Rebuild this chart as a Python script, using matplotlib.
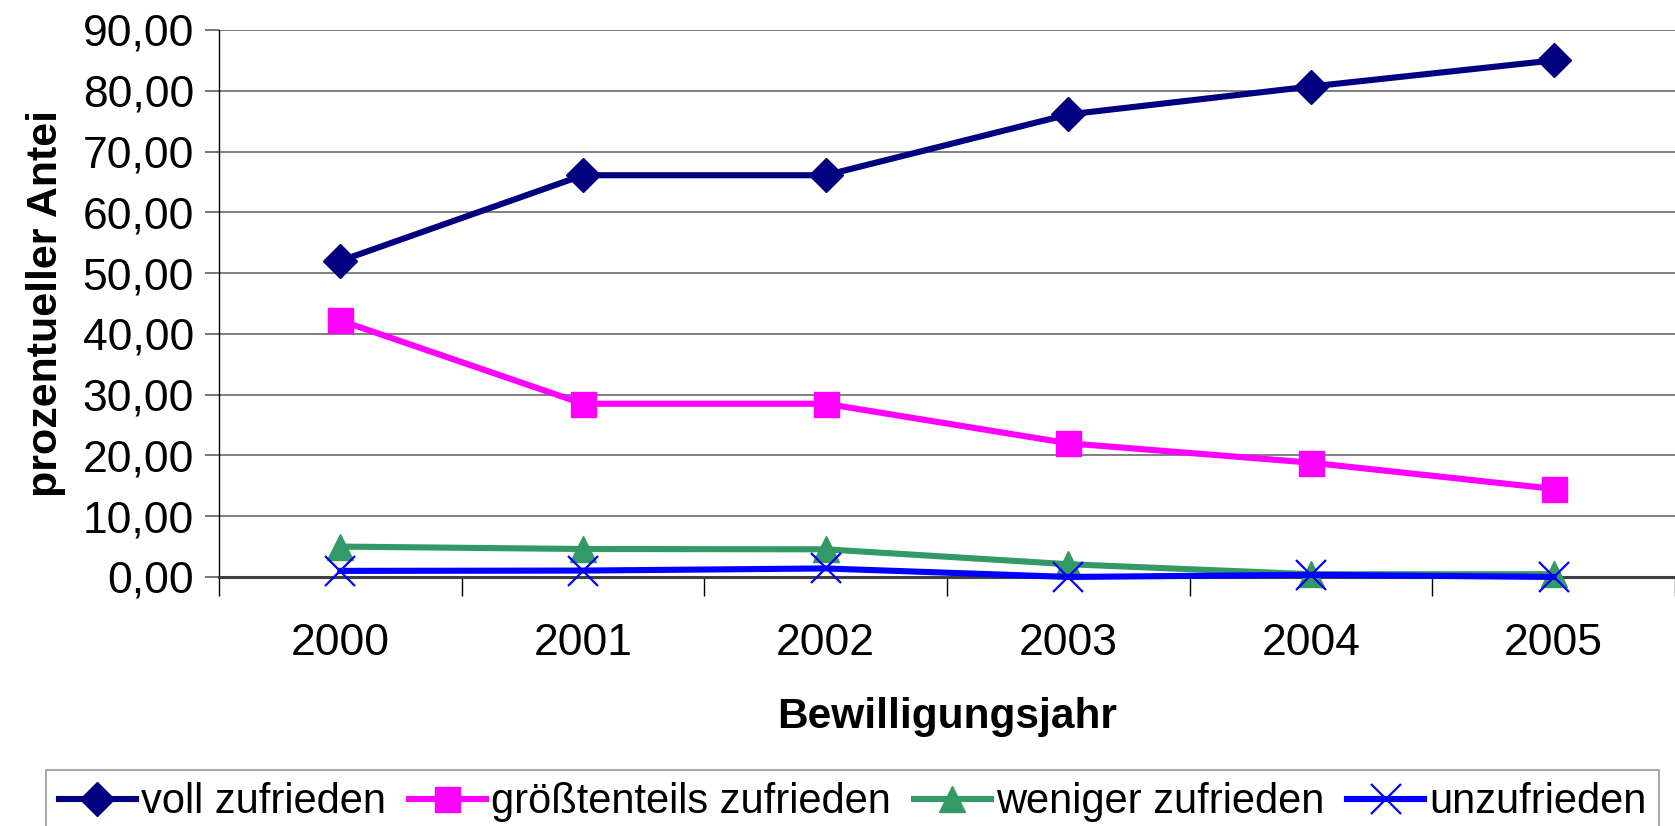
import matplotlib.pyplot as plt
import numpy as np
from matplotlib.ticker import FuncFormatter, FixedLocator

plt.rcParams['font.family'] = ['Liberation Sans', 'DejaVu Sans']

# Data
jahre = ['2000', '2001', '2002', '2003', '2004', '2005']
voll = [52.0, 66.1, 66.1, 76.1, 80.7, 85.0]
groesstenteils = [42.2, 28.5, 28.5, 22.0, 18.8, 14.5]
weniger = [5.0, 4.6, 4.55, 2.1, 0.45, 0.45]
unzufrieden = [1.0, 1.05, 1.4, 0.0, 0.35, 0.0]

fig = plt.figure(figsize=(16.75, 8.26), dpi=100)
ax = fig.add_axes([0.1307, 0.3015, 0.8693, 0.6622])

x = np.arange(len(jahre))
ax.plot(x, voll, '-D', color='#000080', lw=4.4, ms=17, label='voll zufrieden', clip_on=False, zorder=5)
ax.plot(x, groesstenteils, '-s', color='#FF00FF', lw=4.4, ms=18, label='größtenteils zufrieden', clip_on=False, zorder=5)
ax.plot(x, weniger, '-^', color='#339966', lw=4.4, ms=19, label='weniger zufrieden', clip_on=False, zorder=6)
ax.plot(x, unzufrieden, '-x', color='#0000FF', lw=4.4, ms=21, mew=1.6, label='unzufrieden', clip_on=False, zorder=7)

ax.set_xlim(-0.5, len(jahre) - 0.5)
ax.set_ylim(0, 90)
ax.set_yticks(np.arange(0, 91, 10))
ax.yaxis.set_major_formatter(FuncFormatter(lambda v, p: f'{v:.2f}'.replace('.', ',')))

# category ticks between years, labels centered
ax.xaxis.set_major_locator(FixedLocator(np.arange(-0.5, len(jahre), 1.0)))
ax.xaxis.set_minor_locator(FixedLocator(x))
ax.set_xticklabels([])
ax.set_xticklabels(jahre, minor=True)
ax.tick_params(axis='x', which='major', length=14, width=1, color='black', direction='out')
ax.tick_params(axis='x', which='minor', length=0, labelsize=32, pad=33)
ax.tick_params(axis='y', length=10, width=1.2, color='#606060', labelsize=32, pad=8)

ax.grid(axis='y', color='#808080', lw=1.4)
ax.set_axisbelow(True)
for s in ['top', 'right']:
    ax.spines[s].set_visible(False)
ax.spines['left'].set_color('black')
ax.spines['left'].set_linewidth(1)
ax.spines['bottom'].set_color('#404040')
ax.spines['bottom'].set_linewidth(2.2)

ax.set_xlabel('Bewilligungsjahr', fontsize=30.5, fontweight='bold', labelpad=24)
ax.set_ylabel('prozentueller Antei', fontsize=31, fontweight='bold', labelpad=12)

leg = fig.legend(loc='upper center', bbox_to_anchor=(0.509, 0.068), ncol=4, fontsize=30,
                 frameon=True, fancybox=False, edgecolor='#808080', handlelength=1.85,
                 handletextpad=0.12, columnspacing=0.55, borderpad=0.3, borderaxespad=0)
leg.get_frame().set_linewidth(1.2)

fig.savefig('out.png', dpi=100)
